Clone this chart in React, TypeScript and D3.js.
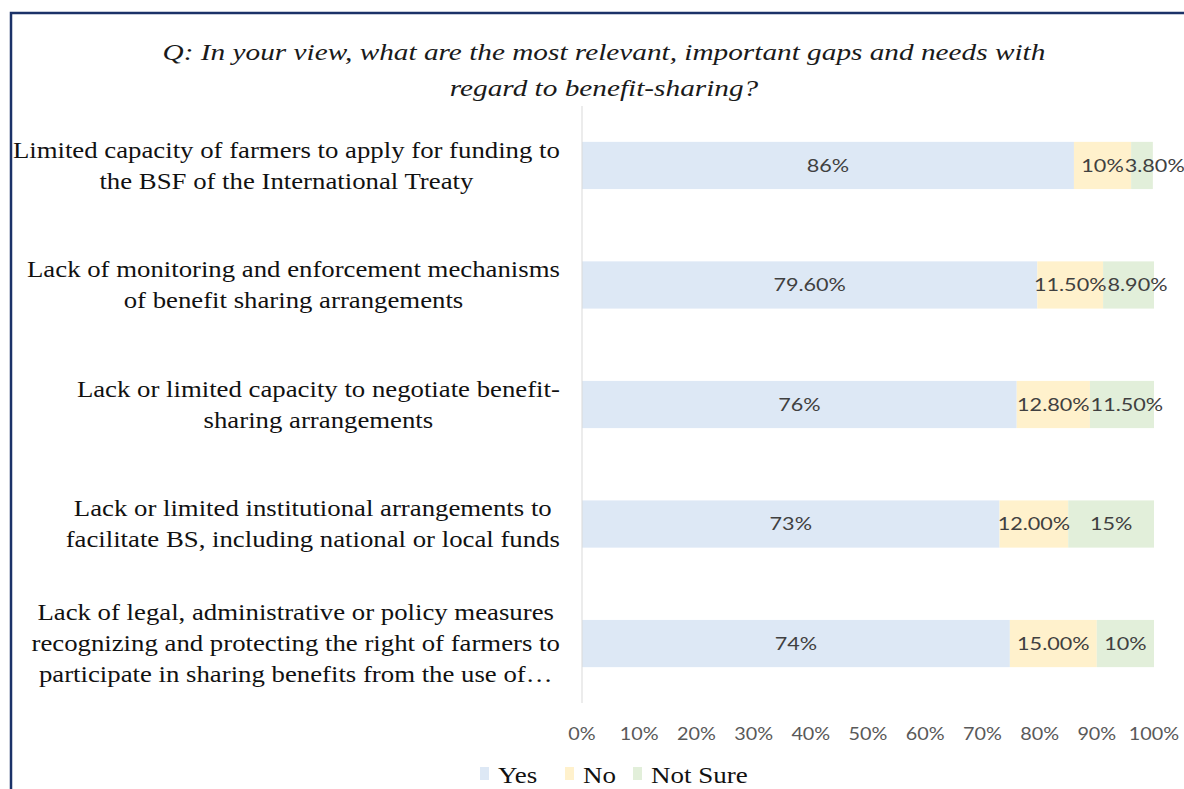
import React, { useRef, useEffect } from "react"
import * as d3 from "d3"

const categories = [
  ["Limited capacity of farmers to apply for funding to", "the BSF of the International Treaty"],
  ["Lack of monitoring and enforcement mechanisms", "of benefit sharing arrangements"],
  ["Lack or limited capacity to negotiate benefit-", "sharing arrangements"],
  ["Lack or limited institutional arrangements to", "facilitate BS, including national or local funds"],
  ["Lack of legal, administrative or policy measures", "recognizing and protecting the right of farmers to", "participate in sharing benefits from the use of\u2026"],
]
const seriesNames = ["Yes", "No", "Not Sure"]
const yesValues = [86, 79.6, 76, 73, 74.8]
const noValues = [10, 11.5, 12.8, 12, 15.2]
const notSureValues = [3.8, 8.9, 11.5, 15, 10]
const yesLabels = ["86%", "79.60%", "76%", "73%", "74%"]
const noLabels = ["10%", "11.50%", "12.80%", "12.00%", "15.00%"]
const notSureLabels = ["3.80%", "8.90%", "11.50%", "15%", "10%"]
const tickValues = [0, 10, 20, 30, 40, 50, 60, 70, 80, 90, 100]
const titleLines = [
  "Q: In your view,  what are the most relevant, important gaps and needs with",
  "regard to benefit-sharing?",
]

const colors = ["#dde8f5", "#fff1cc", "#e2efda"]

const W = 1184
const H = 789
const SX = 1.2 // the picture is stretched sideways

const App: React.FC = () => {
  const svgRef = useRef<SVGSVGElement>(null)

  useEffect(() => {
    if (!svgRef.current) return
    const svg = d3.select(svgRef.current)
    svg.selectAll("*").remove()

    const margin = { left: 582, right: 30, top: 106, bottom: 86 }

    const x = d3.scaleLinear().domain([0, 100]).range([margin.left, W - margin.right])
    const y = d3.scaleBand<number>()
      .domain(d3.range(categories.length))
      .range([margin.top, H - margin.bottom])
      .paddingInner(0.605)
      .paddingOuter(0.3)

    const stretched = (sel: any, cx: number, cy: number, sx: number) =>
      sel.attr("x", 0).attr("y", 0)
        .attr("transform", `translate(${cx},${cy}) scale(${sx},1)`)

    // frame
    svg.append("rect")
      .attr("x", 11).attr("y", 13)
      .attr("width", W + 20).attr("height", H + 20)
      .attr("fill", "none")
      .attr("stroke", "#1b3268")
      .attr("stroke-width", 2.5)

    // title
    titleLines.forEach((t, i) => {
      const el = svg.append("text")
        .attr("text-anchor", "middle")
        .attr("font-family", "Liberation Serif, serif")
        .attr("font-style", "italic")
        .attr("font-size", 24)
        .attr("fill", "#1a1a1a")
        .text(t)
      stretched(el, 604, 60 + i * 36, 1.22)
    })

    const rows = categories.map((c, i) => ({
      idx: i,
      values: [yesValues[i], noValues[i], notSureValues[i]],
      labels: [yesLabels[i], noLabels[i], notSureLabels[i]],
    }))

    const stackData = rows.map(r => {
      let acc = 0
      return r.values.map((v, k) => {
        const s = { row: r.idx, k, x0: acc, x1: Math.min(100, acc + v), label: r.labels[k] }
        acc += v
        return s
      })
    })

    // bars
    svg.append("g").selectAll("rect")
      .data(stackData.flat())
      .enter().append("rect")
      .attr("x", d => x(d.x0))
      .attr("y", d => y(d.row)!)
      .attr("width", d => x(d.x1) - x(d.x0))
      .attr("height", y.bandwidth())
      .attr("fill", d => colors[d.k])

    // axis line
    svg.append("line")
      .attr("x1", x(0)).attr("x2", x(0))
      .attr("y1", margin.top).attr("y2", H - margin.bottom)
      .attr("stroke", "#d9d9d9")
      .attr("stroke-width", 1)

    // data labels, nudged right when they run into the previous one
    stackData.forEach(row => {
      let prevRight = -Infinity
      row.forEach(d => {
        const el = svg.append("text")
          .attr("dy", "0.35em")
          .attr("text-anchor", "middle")
          .attr("font-family", "Lato, sans-serif")
          .attr("font-size", 18)
          .attr("fill", "#404040")
          .text(d.label)
        const w = (el.node() as SVGTextElement).getComputedTextLength() * SX
        let cx = (x(d.x0) + x(d.x1)) / 2
        if (cx - w / 2 < prevRight + 1) cx = prevRight + 1 + w / 2
        prevRight = cx + w / 2
        stretched(el, cx, y(d.row)! + y.bandwidth() / 2, SX)
      })
    })

    // category labels: each block right-aligned, its lines centred
    const catG = svg.append("g")
    categories.forEach((lines, i) => {
      const cy = y(i)! + y.bandwidth() / 2
      const lh = 31
      const start = cy - ((lines.length - 1) * lh) / 2
      const els = lines.map((ln, j) =>
        catG.append("text")
          .attr("dy", "0.35em")
          .attr("text-anchor", "middle")
          .attr("font-family", "Liberation Serif, serif")
          .attr("font-size", 22.5)
          .attr("fill", "#111")
          .text(ln)
      )
      const sxc = 1.19
      const maxW = d3.max(els, e => (e.node() as SVGTextElement).getComputedTextLength())! * sxc
      const cx = 560 - maxW / 2
      els.forEach((e, j) => stretched(e, cx, start + j * lh, sxc))
    })

    // x axis tick labels
    tickValues.forEach(t => {
      const el = svg.append("text")
        .attr("dy", "0.35em")
        .attr("text-anchor", "middle")
        .attr("font-family", "Lato, sans-serif")
        .attr("font-size", 18)
        .attr("fill", "#595959")
        .text(t + "%")
      stretched(el, x(t), 734, 1.1)
    })

    // legend
    const legendX = [480, 565, 633]
    const lg = svg.append("g")
    seriesNames.forEach((name, k) => {
      lg.append("rect")
        .attr("x", legendX[k]).attr("y", 767)
        .attr("width", 9).attr("height", 13)
        .attr("fill", colors[k])
      const el = lg.append("text")
        .attr("dy", "0.35em")
        .attr("font-family", "Liberation Serif, serif")
        .attr("font-size", 22.5)
        .attr("fill", "#111")
        .text(name)
      stretched(el, legendX[k] + 18, 775, SX)
    })
  }, [])

  return (
    <svg ref={svgRef} width={W} height={H}
      style={{ position: "absolute", left: 0, top: 0, background: "#fff" }} />
  )
}

export default App
